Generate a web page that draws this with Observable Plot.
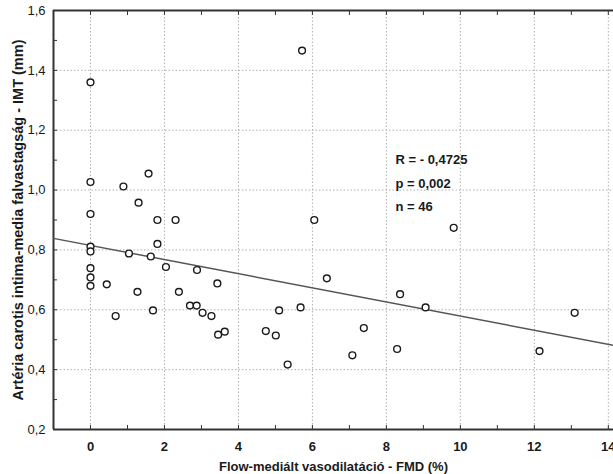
<!DOCTYPE html>
<html>
<head>
<meta charset="utf-8">
<script src="https://cdn.jsdelivr.net/npm/d3@7"></script>
<script src="https://cdn.jsdelivr.net/npm/@observablehq/plot@0.6"></script>
<style>
  html, body { margin: 0; padding: 0; background: white; overflow: hidden; }
</style>
</head>
<body>
<div id="chart"></div>
<script>
// FMD (%) values (x)
const fmd = [0, 0, 0.89, 1.57, 1.30, 0, 1.81, 2.30, 1.81, 0, 0, 1.04, 1.63, 2.04, 2.88, 0, 0, 0, 0.44, 3.43,
  1.27, 2.39, 2.69, 2.87, 3.03, 3.27, 0.68, 1.69, 3.45, 3.63, 6.05, 6.39, 5.10, 5.68, 4.74, 5.01, 5.33, 7.39,
  7.08, 8.37, 8.29, 5.72, 9.82, 9.06, 12.14, 13.09];
// IMT (mm) values (y)
const imt = [1.36, 1.027, 1.012, 1.055, 0.958, 0.92, 0.90, 0.90, 0.82, 0.811, 0.795, 0.788, 0.778, 0.743, 0.733,
  0.739, 0.708, 0.68, 0.685, 0.688, 0.66, 0.66, 0.614, 0.614, 0.59, 0.579, 0.579, 0.598, 0.517, 0.527, 0.90,
  0.705, 0.598, 0.608, 0.529, 0.514, 0.417, 0.539, 0.448, 0.652, 0.469, 1.466, 0.874, 0.608, 0.462, 0.59];

const xDomain = [-1, 14.14];
const yDomain = [0.2, 1.6];
const xTicks = [0, 2, 4, 6, 8, 10, 12, 14];
const xMinorTicks = [0, 1, 2, 3, 4, 5, 6, 7, 8, 9, 10, 11, 12, 13, 14];
const yTicks = [0.2, 0.4, 0.6, 0.8, 1.0, 1.2, 1.4, 1.6];
const yMinorTicks = [0.3, 0.4, 0.5, 0.6, 0.7, 0.8, 0.9, 1.0, 1.1, 1.2, 1.3, 1.4, 1.5];
const yGrid = [0.4, 0.6, 0.8, 1.0, 1.2, 1.4];

// regression line
const regIntercept = 0.815;
const regSlope = -0.0236;
const regLine = xDomain.map(x => ({x, y: regIntercept + regSlope * x}));

const stats = ["R = - 0,4725", "p = 0,002", "n = 46"];
const xTitle = "Flow-mediált vasodilatáció - FMD (%)";
const yTitle = "Artéria carotis intima-media falvastagság - IMT (mm)";

const points = fmd.map((x, i) => ({x, y: imt[i]}));
const comma = d => d.toFixed(1).replace(".", ",");

const chart = Plot.plot({
  width: 613,
  height: 474,
  marginLeft: 53,
  marginRight: 0,
  marginTop: 10,
  marginBottom: 45,
  style: {fontFamily: "'Liberation Sans', Arial, sans-serif", fontSize: "12px", color: "#1a1a1a", background: "white", overflow: "visible"},
  x: {domain: xDomain},
  y: {domain: yDomain},
  marks: [
    Plot.ruleX(xTicks, {stroke: "#b0b0b0", strokeDasharray: "1.5,2"}),
    Plot.ruleY(yGrid, {stroke: "#b0b0b0", strokeDasharray: "1.5,2"}),
    Plot.axisX(xMinorTicks, {anchor: "bottom", tickSize: -4, tickFormat: () => "", label: null, stroke: "#333"}),
    Plot.axisX(xMinorTicks, {anchor: "top", tickSize: -4, tickFormat: () => "", label: null, stroke: "#333"}),
    Plot.axisY(yMinorTicks, {anchor: "left", tickSize: -4, tickFormat: () => "", label: null, stroke: "#333"}),
    Plot.axisX(xTicks, {anchor: "bottom", tickSize: 0, tickPadding: 12, fontWeight: "bold", fontSize: 13, label: null}),
    Plot.axisY(yTicks, {anchor: "left", tickSize: 0, tickPadding: 8, fontSize: 13, tickFormat: comma, label: null}),
    Plot.ruleX([xDomain[0]], {stroke: "#333", strokeWidth: 2}),
    Plot.ruleY(yDomain, {stroke: "#333", strokeWidth: 2}),
    Plot.line(regLine, {x: "x", y: "y", stroke: "#555", strokeWidth: 1.5}),
    Plot.dot(points, {x: "x", y: "y", r: 3.4, stroke: "#1a1a1a", fill: "white", strokeWidth: 1.4}),
    Plot.text([stats.join("\n")], {frameAnchor: "top-left", dx: 342, dy: 137, lineAnchor: "top", lineHeight: 1.8, textAnchor: "start", fontWeight: "bold", fontSize: 13, fill: "#1a1a1a"}),
    Plot.text([xTitle], {frameAnchor: "bottom", dy: 41, fontWeight: "bold", fontSize: 13, fill: "#1a1a1a"}),
    Plot.text([yTitle], {frameAnchor: "left", dx: -35, rotate: -90, textAnchor: "middle", fontWeight: "bold", fontSize: 14.5, fill: "#1a1a1a"})
  ]
});
document.getElementById("chart").append(chart);
</script>
</body>
</html>
